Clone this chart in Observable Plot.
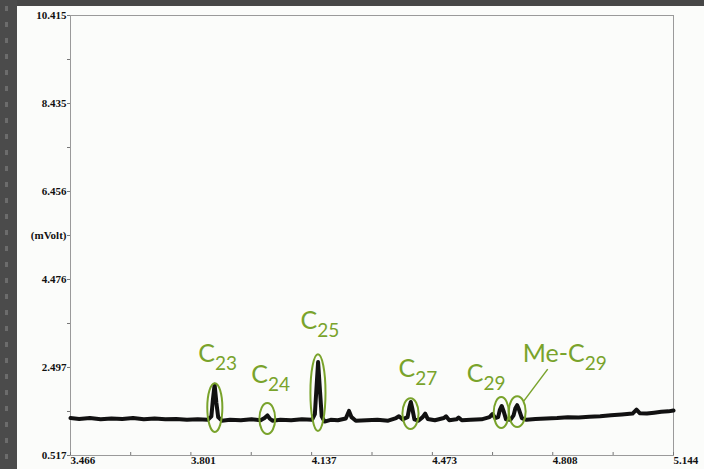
<!DOCTYPE html>
<html><head><meta charset="utf-8">
<script src="https://cdn.jsdelivr.net/npm/d3@7"></script>
<script src="https://cdn.jsdelivr.net/npm/@observablehq/plot@0.6"></script>
<style>
html,body{margin:0;padding:0;width:704px;height:469px;overflow:hidden;background:#474747;}
#strip{position:absolute;left:0;top:0;width:17px;height:469px;background-color:#4b4b4b;
  background-image:repeating-linear-gradient(to bottom, transparent 0 6px, #6c6c6c 6px 11px, transparent 11px 16px);
  background-size:3px 100%;background-position:5px 0;background-repeat:no-repeat;}
#paper{position:absolute;left:17px;top:6px;width:687px;height:463px;}
#paper svg{overflow:visible;}
#paper svg text{font-family:'Liberation Serif','Times New Roman',serif;}
#paper svg text.ann{font-family:Lato,'Open Sans',sans-serif;}
</style></head>
<body>
<div id="strip"></div>
<div id="paper"></div>
<script>
// ---- data ----
const times = [3.466,3.49,3.52,3.55,3.58,3.61,3.64,3.67,3.70,3.73,3.76,3.79,3.82,3.848,
  3.858,3.862,3.867,3.872,3.877,3.887,3.91,3.94,3.97,3.995,
  4.006,4.014,4.020,4.028,4.05,4.08,4.11,4.138,
  4.146,4.151,4.155,4.160,4.165,4.173,4.19,4.21,4.232,4.241,4.248,4.26,4.29,4.32,4.35,4.372,4.380,4.390,
  4.404,4.409,4.413,4.417,4.423,4.434,4.446,4.453,4.460,4.48,4.505,4.511,4.52,4.54,4.546,4.555,4.58,4.61,4.632,4.640,4.648,
  4.656,4.661,4.666,4.671,4.678,4.690,
  4.699,4.704,4.709,4.714,4.722,4.735,
  4.76,4.79,4.82,4.85,4.88,4.91,4.94,4.97,5.00,5.03,5.041,5.05,5.07,5.09,5.11,5.13,5.144];
const mvolts = [1.36,1.34,1.36,1.33,1.35,1.34,1.36,1.33,1.35,1.33,1.34,1.32,1.33,1.32,
  1.40,1.75,2.11,1.70,1.38,1.30,1.32,1.31,1.33,1.31,
  1.36,1.42,1.35,1.30,1.32,1.31,1.33,1.32,
  1.45,2.10,2.62,2.00,1.40,1.28,1.32,1.31,1.35,1.52,1.38,1.30,1.31,1.32,1.30,1.36,1.40,1.33,
  1.38,1.60,1.72,1.58,1.33,1.30,1.38,1.46,1.34,1.31,1.36,1.40,1.31,1.33,1.37,1.31,1.32,1.33,1.38,1.45,1.36,
  1.38,1.55,1.63,1.52,1.33,1.32,
  1.42,1.58,1.65,1.55,1.36,1.32,
  1.34,1.35,1.36,1.38,1.37,1.39,1.40,1.42,1.44,1.46,1.55,1.47,1.46,1.48,1.50,1.51,1.53];
const yTickValues = [0.517,2.497,4.476,6.456,8.435,10.415];
const yTickLabels = ["0.517","2.497","4.476","6.456","8.435","10.415"];
const yUnitLabel = "(mVolt)";
const xTickValues = [3.466,3.801,4.137,4.473,4.808,5.144];
const xTickLabels = ["3.466","3.801","4.137","4.473","4.808","5.144"];
const xTitle = "Time (min)";
const peakBase = ["C","C","C","C","C","Me-C"];
const peakSub = ["23","24","25","27","29","29"];
const peakTimes = [3.867,4.014,4.155,4.413,4.666,4.709];

// ---- annotation layout (ellipse extents in data units, label offsets in px) ----
const annLayout = [
  {ex:[3.848,3.890], ey:[1.033,2.133], ldx:-16.5, ldy:-21},
  {ex:[3.993,4.037], ey:[0.988,1.684], ldx:-16, ldy:-20},
  {ex:[4.135,4.177], ey:[1.056,2.784], ldx:-17.5, ldy:-25},
  {ex:[4.391,4.436], ey:[1.101,1.796], ldx:-12, ldy:-21},
  {ex:[4.645,4.687], ey:[1.123,1.819], ldx:-34.5, ldy:-15},
  {ex:[4.687,4.734], ey:[1.146,1.841], ldx:5.5, ldy:-34, leader:true}
];

const data = times.map((t,i)=>({t, v:mvolts[i]}));
const mid = a => a.slice(0,-1).map((v,i)=>(v+a[i+1])/2);
const yMinor = mid(yTickValues), xMinor = mid(xTickValues);
const yLab = new Map(yTickValues.map((v,i)=>[v,yTickLabels[i]]));
yLab.set(yMinor[2], yUnitLabel);
const xLab = new Map(xTickValues.map((v,i)=>[v,xTickLabels[i]]));
const serif = "Liberation Serif";

const plot = Plot.plot({
  width:687, height:463,
  marginLeft:53, marginRight:31, marginTop:9, marginBottom:14,
  x:{domain:[3.466,5.144]},
  y:{domain:[0.517,10.415]},
  style:{background:"#fbfcfa", overflow:"visible"},
  marks:[
    Plot.frame({stroke:"#9a9a9a"}),
    Plot.axisY(yTickValues.concat(yMinor), {tickSize:3, tickPadding:1, stroke:"#777",
      tickFormat:d=>yLab.get(d) ?? "", fontSize:11, fontWeight:"bold", fill:"#111", label:null}),
    Plot.axisX(xTickValues.concat(xMinor), {tickSize:-3, tickPadding:4, stroke:"#777", textAnchor:"start",
      tickFormat:d=>xLab.get(d) ?? "", fontSize:11, fontWeight:"bold", fill:"#111", label:null}),
    Plot.line(data, {x:"t", y:"v", stroke:"#111", strokeWidth:4, strokeLinejoin:"round"})
  ]
});
document.getElementById("paper").appendChild(plot);

const sx = plot.scale("x"), sy = plot.scale("y");
const svg = d3.select(plot);
const green = "#79a32b";
const g = svg.append("g").attr("fill","none").attr("stroke",green);
annLayout.forEach((a,i)=>{
  const x0 = sx.apply(a.ex[0]), x1 = sx.apply(a.ex[1]);
  const top = sy.apply(a.ey[1]), bot = sy.apply(a.ey[0]);
  const cx = (x0+x1)/2;
  g.append("ellipse").attr("cx",cx).attr("cy",(top+bot)/2)
    .attr("rx",(x1-x0)/2).attr("ry",(bot-top)/2).attr("stroke-width",2);
  const t = svg.append("text").attr("class","ann").attr("x",cx+a.ldx).attr("y",top+a.ldy)
    .attr("text-anchor","start").attr("fill",green).attr("font-size",25);
  t.append("tspan").text(peakBase[i]);
  t.append("tspan").attr("dy",8).attr("font-size",19).text(peakSub[i]);
  if (a.leader) {
    g.append("line").attr("x1",cx+6.5).attr("y1",top+5).attr("x2",cx+30.5).attr("y2",top-27)
      .attr("stroke-width",1.5);
  }
});
svg.append("text").attr("x",sx.apply(4.242)).attr("y",473).attr("text-anchor","start")
  .attr("font-weight","bold").attr("font-size",12).attr("fill","#111").text(xTitle);
</script>
</body></html>
